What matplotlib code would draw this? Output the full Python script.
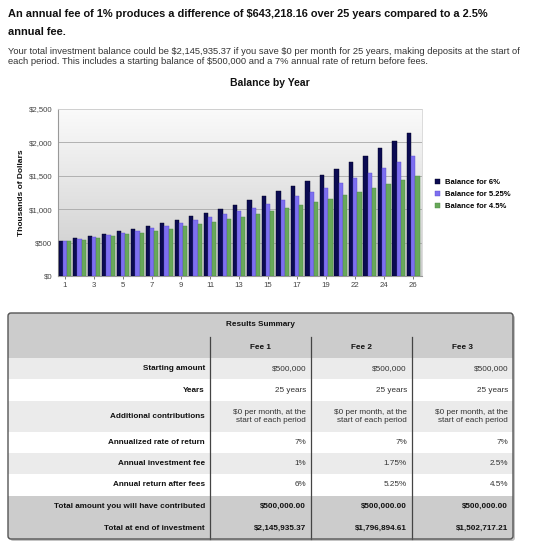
import numpy as np
import matplotlib
matplotlib.use('Agg')
import matplotlib.pyplot as plt
from matplotlib.patches import Rectangle, FancyBboxPatch

plt.rcParams['font.family'] = ['Liberation Sans', 'DejaVu Sans']
plt.rcParams['text.parse_math'] = False

# ==========================================
# DATA
# ==========================================
headline = ("An annual fee of 1% produces a difference of $643,218.16 over 25 years compared to a 2.5%\n"
            "annual fee.")
intro = ("Your total investment balance could be $2,145,935.37 if you save $0 per month for 25 years, making deposits at the start of\n"
         "each period. This includes a starting balance of $500,000 and a 7% annual rate of return before fees.")

# balance in thousands of dollars, one value per year
bal_6 = [530.0, 561.8, 595.5, 631.2, 669.1, 709.3, 751.8, 796.9, 844.7, 895.4,
         949.1, 1006.1, 1066.5, 1130.5, 1198.3, 1270.2, 1346.4, 1427.2, 1512.8, 1603.6,
         1699.8, 1801.8, 1909.9, 2024.5, 2145.9]
bal_525 = [526.3, 553.9, 583.0, 613.6, 645.8, 679.7, 715.4, 752.9, 792.4, 834.0,
           877.8, 923.9, 972.4, 1023.5, 1077.2, 1133.8, 1193.3, 1255.9, 1321.9, 1391.3,
           1464.3, 1541.2, 1622.1, 1707.3, 1796.9]
bal_45 = [522.5, 546.0, 570.6, 596.3, 623.1, 651.1, 680.4, 711.0, 743.0, 776.5,
          811.4, 847.9, 886.1, 925.9, 967.6, 1011.1, 1056.6, 1104.2, 1153.9, 1205.8,
          1260.1, 1316.8, 1376.0, 1438.0, 1502.7]
series_names = ['Balance for 6%', 'Balance for 5.25%', 'Balance for 4.5%']
xtick_labels = ['1', '3', '5', '7', '9', '11', '13', '15', '17', '19', '22', '24', '26']
yticks = [0, 500, 1000, 1500, 2000, 2500]

table_cols = ['Fee 1', 'Fee 2', 'Fee 3']
table_rows = ['Starting amount', 'Years', 'Additional contributions', 'Annualized rate of return',
              'Annual investment fee', 'Annual return after fees',
              'Total amount you will have contributed', 'Total at end of investment']
table_vals = [
    ['$500,000', '$500,000', '$500,000'],
    ['25 years', '25 years', '25 years'],
    ['$0 per month, at the\nstart of each period'] * 3,
    ['7%', '7%', '7%'],
    ['1%', '1.75%', '2.5%'],
    ['6%', '5.25%', '4.5%'],
    ['$500,000.00', '$500,000.00', '$500,000.00'],
    ['$2,145,935.37', '$1,796,894.61', '$1,502,717.21'],
]

# ==========================================
# PAGE
# ==========================================
W, H = 533, 549
fig = plt.figure(figsize=(W / 100, H / 100), dpi=100)
page = fig.add_axes([0, 0, 1, 1])
page.set_xlim(0, W)
page.set_ylim(H, 0)
page.axis('off')

page.text(8, 9, headline, fontsize=7.9, fontweight='bold', va='top', ha='left',
          color='#111111', linespacing=2.0)
page.text(8, 47, intro, fontsize=6.75, va='top', ha='left', color='#333333', linespacing=1.15)
page.text(270, 83, 'Balance by Year', fontsize=7.5, fontweight='bold', ha='center', va='center',
          color='#111111')

# ==========================================
# CHART
# ==========================================
ax = fig.add_axes([58 / W, 1 - 276 / H, 364 / W, 167 / H])
grad = np.linspace(0, 1, 256).reshape(-1, 1)
ax.imshow(grad, extent=[0, 1, 0, 1], transform=ax.transAxes, aspect='auto',
          cmap=matplotlib.colors.LinearSegmentedColormap.from_list('bg', ['#fbfbfb', '#cbcbcb']),
          zorder=0)

x = np.arange(len(bal_6))
w = 0.29
colors = ['#0b0b52', '#7d6ff0', '#68a85a']
edges = ['#000020', '#5a4ccc', '#4a8a40']
for k, (vals, col, ec, name) in enumerate(zip([bal_6, bal_525, bal_45], colors, edges, series_names)):
    ax.bar(x + (k - 1) * w, vals, width=w, color=col, edgecolor=ec, linewidth=0.3,
           label=name, zorder=3)

ax.set_xlim(-0.48, len(bal_6) - 0.4)
ax.set_ylim(0, 2500)
ax.set_yticks(yticks)
ax.set_yticklabels([f'${v:,}' for v in yticks])
ax.set_xticks(x[::2])
ax.set_xticklabels(xtick_labels)
ax.tick_params(axis='both', labelsize=5.6, colors='#444444', length=2, width=0.5, pad=2)
ax.tick_params(axis='y', length=0, pad=4)
ax.grid(axis='y', color='#a8a8a8', linewidth=0.6, zorder=1)
for s in ['top', 'right']:
    ax.spines[s].set_color('#d6d6d6')
    ax.spines[s].set_linewidth(0.6)
for s in ['left', 'bottom']:
    ax.spines[s].set_color('#999999')
    ax.spines[s].set_linewidth(0.8)
ax.set_ylabel('Thousands of Dollars', fontsize=6, fontweight='bold', color='#111111', labelpad=3)

fig.legend(loc='upper left', bbox_to_anchor=(428 / W, 1 - 172 / H), frameon=False,
           prop={'size': 5.5, 'weight': 'bold'}, handlelength=0.7, handleheight=0.7,
           handletextpad=0.6, labelspacing=0.6)

# ==========================================
# TABLE
# ==========================================
tx0, tx1 = 8, 513
col_edges = [tx0, 210, 311, 412, tx1]
row_edges = [313, 337, 358, 379, 401, 432, 453, 474, 496, 517, 539]
row_fill = ['#cccccc', '#cccccc', '#ebebeb', '#ffffff', '#ebebeb', '#ffffff',
            '#ebebeb', '#ffffff', '#cccccc', '#cccccc']

# shadow + box
page.add_patch(FancyBboxPatch((tx0 + 2, row_edges[0] + 2), tx1 - tx0, row_edges[-1] - row_edges[0],
                              boxstyle='round,pad=0,rounding_size=3', facecolor='#c4c4c4',
                              edgecolor='none', zorder=1))
for i in range(len(row_edges) - 1):
    page.add_patch(Rectangle((tx0, row_edges[i]), tx1 - tx0, row_edges[i + 1] - row_edges[i],
                             facecolor=row_fill[i], edgecolor='none', zorder=2))
page.add_patch(FancyBboxPatch((tx0, row_edges[0]), tx1 - tx0, row_edges[-1] - row_edges[0],
                              boxstyle='round,pad=0,rounding_size=3', facecolor='none',
                              edgecolor='#555555', linewidth=1.0, zorder=4))
for cx in col_edges[1:-1]:
    page.plot([cx, cx], [row_edges[1], row_edges[-1]], color='#444444', linewidth=0.9, zorder=3)

tfs = 5.9
page.text((tx0 + tx1) / 2, (row_edges[0] + row_edges[1]) / 2, 'Results Summary', fontsize=tfs,
          fontweight='bold', ha='center', va='center', color='#111111', zorder=5)
for j, name in enumerate(table_cols):
    page.text((col_edges[j + 1] + col_edges[j + 2]) / 2, (row_edges[1] + row_edges[2]) / 2, name,
              fontsize=tfs, fontweight='bold', ha='center', va='center', color='#111111', zorder=5)
for i, (label, vals) in enumerate(zip(table_rows, table_vals)):
    yc = (row_edges[i + 2] + row_edges[i + 3]) / 2
    bold_vals = i >= 6
    page.text(col_edges[1] - 5, yc, label, fontsize=tfs, fontweight='bold', ha='right', va='center',
              color='#111111', zorder=5)
    for j, v in enumerate(vals):
        page.text(col_edges[j + 2] - 5, yc, v, fontsize=tfs, ha='right', va='center',
                  fontweight='bold' if bold_vals else 'normal', multialignment='right',
                  color='#111111' if bold_vals else '#333333', linespacing=1.1, zorder=5)

fig.savefig('out.png', dpi=100)
